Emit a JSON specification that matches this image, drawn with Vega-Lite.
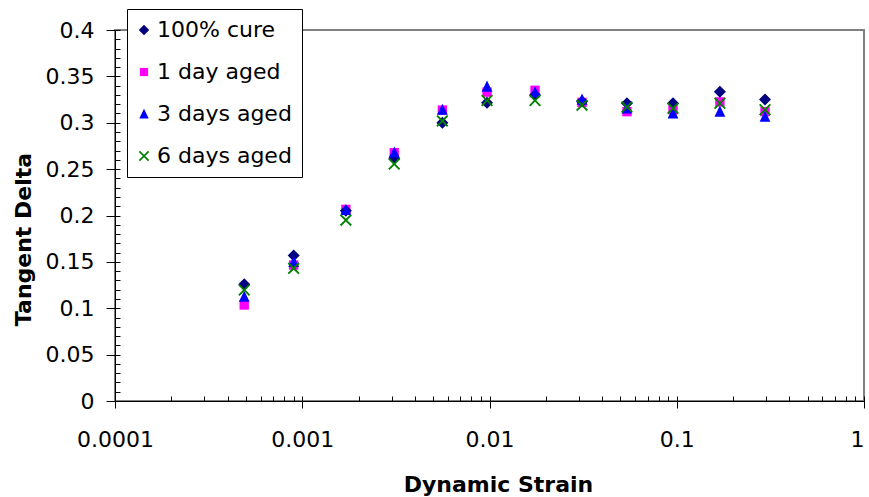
{
  "$schema": "https://vega.github.io/schema/vega-lite/v6.json",
  "width": 749,
  "height": 371,
  "autosize": "none",
  "padding": {"left": 115, "top": 30, "right": 5, "bottom": 96},
  "background": "white",
  "config": {
    "view": {"stroke": "#808080", "strokeWidth": 2},
    "axis": {
      "labelFont": "DejaVu Sans",
      "labelFontSize": 22,
      "labelColor": "black",
      "titleFont": "DejaVu Sans",
      "titleFontSize": 22,
      "titleFontWeight": "bold",
      "titleColor": "black",
      "tickColor": "black",
      "domainColor": "black",
      "grid": false
    },
    "legend": {
      "labelFont": "DejaVu Sans",
      "labelFontSize": 22,
      "labelColor": "black"
    }
  },
  "data": {
    "values": [
      {"strain": 0.00049, "series": "100% cure", "td": 0.126},
      {"strain": 0.0009, "series": "100% cure", "td": 0.157},
      {"strain": 0.00171, "series": "100% cure", "td": 0.205},
      {"strain": 0.0031, "series": "100% cure", "td": 0.2616},
      {"strain": 0.0056, "series": "100% cure", "td": 0.300},
      {"strain": 0.0097, "series": "100% cure", "td": 0.3216},
      {"strain": 0.0175, "series": "100% cure", "td": 0.330},
      {"strain": 0.0312, "series": "100% cure", "td": 0.323},
      {"strain": 0.0542, "series": "100% cure", "td": 0.321},
      {"strain": 0.0955, "series": "100% cure", "td": 0.321},
      {"strain": 0.17, "series": "100% cure", "td": 0.3335},
      {"strain": 0.296, "series": "100% cure", "td": 0.325},
      {"strain": 0.00049, "series": "1 day aged", "td": 0.1035},
      {"strain": 0.0009, "series": "1 day aged", "td": 0.1466},
      {"strain": 0.00171, "series": "1 day aged", "td": 0.2066},
      {"strain": 0.0031, "series": "1 day aged", "td": 0.2677},
      {"strain": 0.0056, "series": "1 day aged", "td": 0.3137},
      {"strain": 0.0097, "series": "1 day aged", "td": 0.333},
      {"strain": 0.0175, "series": "1 day aged", "td": 0.335},
      {"strain": 0.0312, "series": "1 day aged", "td": 0.322},
      {"strain": 0.0542, "series": "1 day aged", "td": 0.312},
      {"strain": 0.0955, "series": "1 day aged", "td": 0.314},
      {"strain": 0.17, "series": "1 day aged", "td": 0.3225},
      {"strain": 0.296, "series": "1 day aged", "td": 0.312},
      {"strain": 0.00049, "series": "3 days aged", "td": 0.1125},
      {"strain": 0.0009, "series": "3 days aged", "td": 0.150},
      {"strain": 0.00171, "series": "3 days aged", "td": 0.206},
      {"strain": 0.0031, "series": "3 days aged", "td": 0.268},
      {"strain": 0.0056, "series": "3 days aged", "td": 0.314},
      {"strain": 0.0097, "series": "3 days aged", "td": 0.339},
      {"strain": 0.0175, "series": "3 days aged", "td": 0.333},
      {"strain": 0.0312, "series": "3 days aged", "td": 0.325},
      {"strain": 0.0542, "series": "3 days aged", "td": 0.3155},
      {"strain": 0.0955, "series": "3 days aged", "td": 0.310},
      {"strain": 0.17, "series": "3 days aged", "td": 0.312},
      {"strain": 0.296, "series": "3 days aged", "td": 0.3065},
      {"strain": 0.00049, "series": "6 days aged", "td": 0.1197},
      {"strain": 0.0009, "series": "6 days aged", "td": 0.143},
      {"strain": 0.00171, "series": "6 days aged", "td": 0.195},
      {"strain": 0.0031, "series": "6 days aged", "td": 0.2555},
      {"strain": 0.0056, "series": "6 days aged", "td": 0.302},
      {"strain": 0.0097, "series": "6 days aged", "td": 0.324},
      {"strain": 0.0175, "series": "6 days aged", "td": 0.324},
      {"strain": 0.0312, "series": "6 days aged", "td": 0.319},
      {"strain": 0.0542, "series": "6 days aged", "td": 0.317},
      {"strain": 0.0955, "series": "6 days aged", "td": 0.3155},
      {"strain": 0.17, "series": "6 days aged", "td": 0.321},
      {"strain": 0.296, "series": "6 days aged", "td": 0.314}
    ]
  },
  "resolve": {"axis": {"x": "independent", "y": "independent"}},
  "layer": [
    {
      "mark": {"type": "point", "opacity": 0},
      "encoding": {
        "x": {
          "field": "strain", "type": "quantitative",
          "scale": {"type": "log", "domain": [0.0001, 1], "nice": false},
          "axis": {
            "orient": "bottom", "title": null, "labels": false, "domain": false,
            "tickSize": -5,
            "values": [0.0002,0.0003,0.0004,0.0005,0.0006,0.0007,0.0008,0.0009,0.001,0.002,0.003,0.004,0.005,0.006,0.007,0.008,0.009,0.01,0.02,0.03,0.04,0.05,0.06,0.07,0.08,0.09,0.1,0.2,0.3,0.4,0.5,0.6,0.7,0.8,0.9,1]
          }
        },
        "y": {
          "field": "td", "type": "quantitative",
          "scale": {"domain": [0, 0.4], "nice": false, "zero": true},
          "axis": {
            "orient": "left", "title": null, "labels": false, "domain": false,
            "tickSize": -5,
            "values": [0,0.01,0.02,0.03,0.04,0.05,0.06,0.07,0.08,0.09,0.1,0.11,0.12,0.13,0.14,0.15,0.16,0.17,0.18,0.19,0.2,0.21,0.22,0.23,0.24,0.25,0.26,0.27,0.28,0.29,0.3,0.31,0.32,0.33,0.34,0.35,0.36,0.37,0.38,0.39,0.4]
          }
        }
      }
    },
    {
      "mark": {"type": "point", "filled": true, "opacity": 1, "size": 144, "strokeWidth": 0},
      "encoding": {
        "x": {
          "field": "strain", "type": "quantitative",
          "scale": {"type": "log", "domain": [0.0001, 1], "nice": false},
          "axis": {
            "orient": "bottom",
            "title": "Dynamic Strain",
            "values": [0.0001, 0.001, 0.01, 0.1, 1],
            "format": ".4~f",
            "tickSize": 7,
            "labelPadding": 21,
            "labelFlush": false,
            "labelOverlap": false,
            "labelAlign": {"condition": {"test": "datum.value >= 1", "value": "right"}, "value": "center"},
            "titleX": 383,
            "titleY": 90,
            "titleAlign": "center",
            "titleBaseline": "alphabetic"
          }
        },
        "y": {
          "field": "td", "type": "quantitative",
          "scale": {"domain": [0, 0.4], "nice": false, "zero": true},
          "axis": {
            "orient": "left",
            "title": "Tangent Delta",
            "values": [0, 0.05, 0.1, 0.15, 0.2, 0.25, 0.3, 0.35, 0.4],
            "format": ".2~f",
            "tickSize": 9,
            "labelPadding": 12,
            "labelFlush": false,
            "labelOverlap": false,
            "titleX": -92,
            "titleY": 209,
            "titleAlign": "center",
            "titleBaseline": "middle",
            "titleAngle": -90
          }
        },
        "color": {
          "field": "series", "type": "nominal",
          "scale": {
            "domain": ["100% cure", "1 day aged", "3 days aged", "6 days aged"],
            "range": ["#000080", "#FF00FF", "#0000FF", "#008000"]
          },
          "legend": {
            "title": null,
            "orient": "none",
            "legendX": 12,
            "legendY": -21,
            "padding": 10,
            "rowPadding": 20,
            "labelOffset": 2,
            "symbolOffset": -4,
            "symbolSize": 110,
            "symbolStrokeWidth": 0,
            "strokeColor": "black",
            "fillColor": "white",
            "cornerRadius": 0
          }
        },
        "shape": {
          "field": "series", "type": "nominal",
          "scale": {
            "domain": ["100% cure", "1 day aged", "3 days aged", "6 days aged"],
            "range": [
              "M0,-1L1,0L0,1L-1,0Z",
              "M-0.78,-0.78L0.78,-0.78L0.78,0.78L-0.78,0.78Z",
              "M0,-1L0.9,0.85L-0.9,0.85Z",
              "M0,-0.22L0.78,-1L1,-0.78L0.22,0L1,0.78L0.78,1L0,0.22L-0.78,1L-1,0.78L-0.22,0L-1,-0.78L-0.78,-1Z"
            ]
          },
          "legend": null
        },
        "order": {"field": "series", "type": "nominal"}
      }
    }
  ]
}
